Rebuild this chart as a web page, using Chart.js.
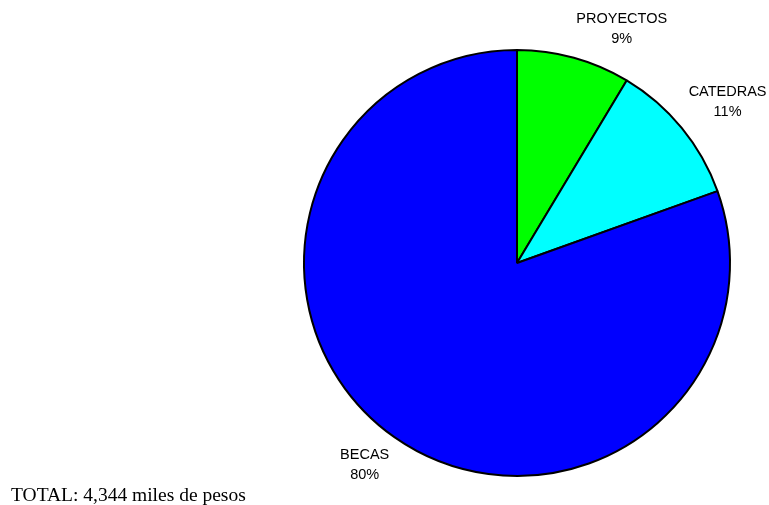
<!DOCTYPE html>
<html>
<head>
<meta charset="utf-8">
<script src="https://cdn.jsdelivr.net/npm/chart.js@4"></script>
<style>
  html, body { margin: 0; padding: 0; background: #ffffff; }
  #wrap { position: relative; width: 769px; height: 505px; }
</style>
</head>
<body>
<div id="wrap"><canvas id="grafico"></canvas></div>
<script>
// datos (miles de pesos)
const categorias = ["PROYECTOS", "CATEDRAS", "BECAS"];
const montos = [374, 474, 3496];
const colores = ["#00ff00", "#00ffff", "#0000ff"];

const total = montos.reduce((a, b) => a + b, 0);
const porcentajes = montos.map(v => Math.round(v / total * 100) + "%");

// etiquetas tipo Excel: la esquina de la caja toca el punto de anclaje
const etiquetasPlugin = {
  id: "etiquetas",
  afterDatasetsDraw(chart) {
    const ctx = chart.ctx;
    const meta = chart.getDatasetMeta(0);
    ctx.save();
    ctx.font = "14.5px 'Liberation Sans', Arial, sans-serif";
    ctx.fillStyle = "#000000";
    ctx.textAlign = "center";
    ctx.textBaseline = "middle";
    const linea = 20;
    meta.data.forEach((arc, i) => {
      const p = arc.getProps(["x", "y", "startAngle", "endAngle", "outerRadius"], true);
      const medio = (p.startAngle + p.endAngle) / 2;
      const r = p.outerRadius + 9;
      const ax = p.x + Math.cos(medio) * r;
      const ay = p.y + Math.sin(medio) * r;
      const lineas = [categorias[i], porcentajes[i]];
      const ancho = Math.max(...lineas.map(t => ctx.measureText(t).width));
      const cx = ax + (Math.cos(medio) >= 0 ? ancho / 2 : -ancho / 2);
      const cy = ay + (Math.sin(medio) >= 0 ? 20 : -20);
      ctx.fillText(lineas[0], cx, cy - linea / 2);
      ctx.fillText(lineas[1], cx, cy + linea / 2);
    });
    // total abajo a la izquierda
    ctx.font = "19.5px 'Liberation Serif', 'Times New Roman', serif";
    ctx.textAlign = "left";
    ctx.textBaseline = "alphabetic";
    ctx.fillText("TOTAL: " + total.toLocaleString("en-US") + " miles de pesos", 11, 501);
    ctx.restore();
  }
};

new Chart(document.getElementById("grafico"), {
  type: "pie",
  data: {
    labels: categorias,
    datasets: [{
      data: montos,
      backgroundColor: colores,
      borderColor: "#000000",
      borderWidth: 2
    }]
  },
  options: {
    responsive: true,
    maintainAspectRatio: false,
    animation: false,
    layout: {
      padding: { left: 285, right: 20, top: 49, bottom: 28 }
    },
    plugins: {
      legend: { display: false },
      tooltip: { enabled: false }
    }
  },
  plugins: [etiquetasPlugin]
});
</script>
</body>
</html>
